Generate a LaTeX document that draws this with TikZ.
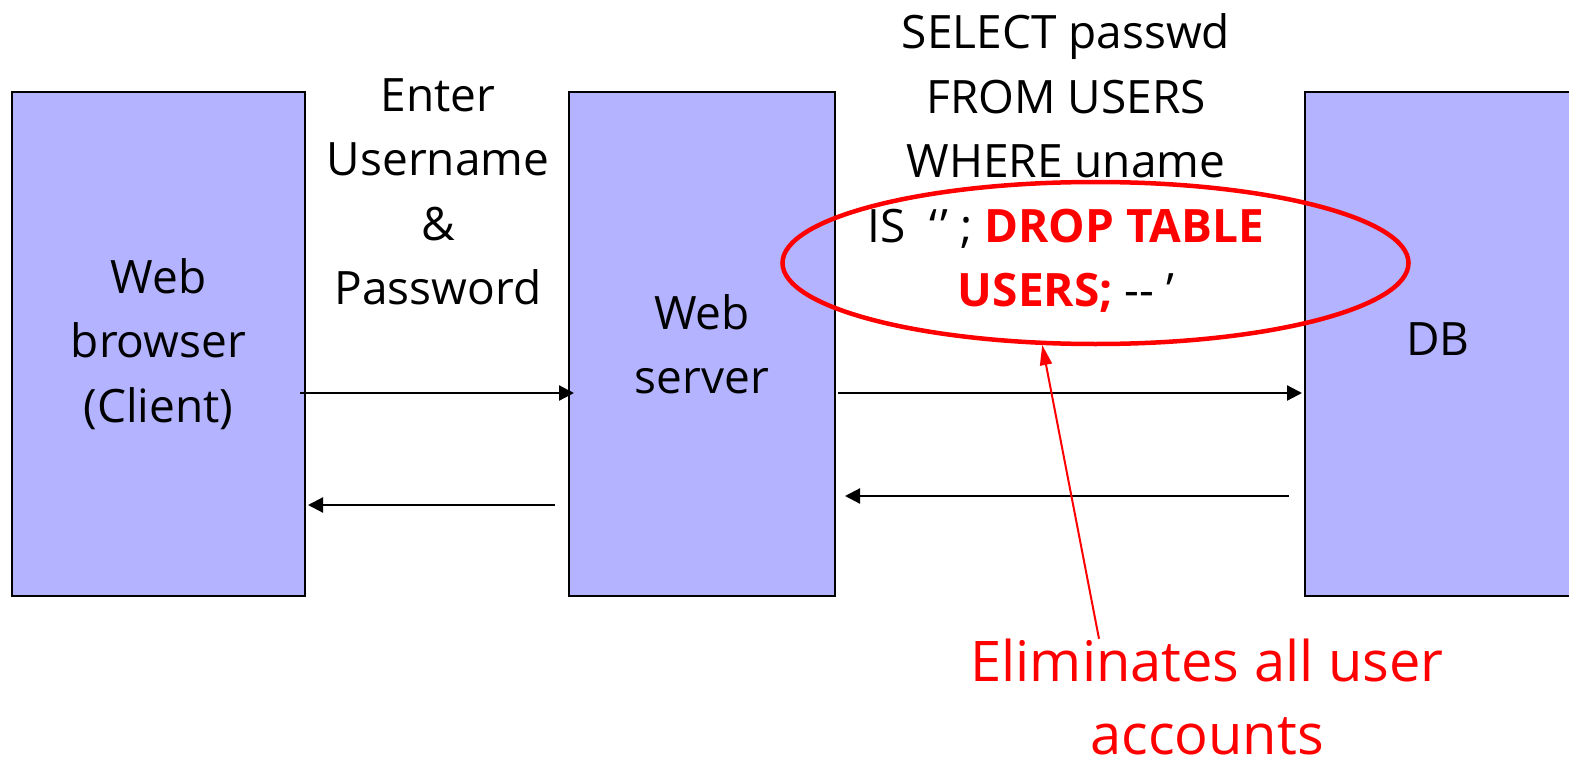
\documentclass[tikz,border=0pt]{standalone}
\usepackage{fontspec}
\setmainfont{Open Sans}
\usetikzlibrary{arrows.meta,shapes.geometric}

\definecolor{tierfill}{HTML}{B3B3FF}
\definecolor{alertred}{HTML}{FF0000}

% type sizes used in the figure
\newcommand\diagfont{\fontsize{46}{64.5}\selectfont}
\newcommand\notefont{\fontsize{56}{73}\selectfont}
% injected SQL fragment
\newcommand\inject[1]{\textcolor{alertred}{\bfseries #1}}

\begin{document}
\begin{tikzpicture}[x=1pt,y=-1pt,
  tier/.style={draw=black, line width=2pt, fill=tierfill,
    minimum width=#1, minimum height=504pt, inner sep=0pt,
    align=center, font=\diagfont},
  msg/.style={inner sep=0pt, align=center, font=\diagfont},
  note/.style={inner sep=0pt, align=center, font=\notefont, text=alertred},
  flow/.style={draw=black, line width=2.2pt,
    -{Triangle[length=15pt,width=15pt]}},
  callout/.style={draw=alertred, line width=2pt,
    -{Triangle[length=20pt,width=12pt]}},
  ring/.style={draw=alertred, line width=4.5pt, ellipse, inner sep=0pt}]

\useasboundingbox (0,0) rectangle (1569,765);

% the three tiers
\node[tier=293pt] (client) at (158.5,344) {Web\\browser\\(Client)};
\node[tier=266pt] (server) at (702,344) {Web\\server};
\node[tier=266pt, text depth=10pt] (db) at (1438,344) {DB};

% message texts
\node[msg] (login) at (438,192) {Enter\\Username\\\&\\Password};
\node[msg] (query) at (1066,163)
  {SELECT passwd\\FROM USERS\\WHERE uname\\IS~~‘\kern3pt’ ; \inject{DROP TABLE}\\\inject{USERS;} -{}- ’};

% highlight round the injected part
\node[ring, minimum width=626pt, minimum height=162pt] (hl) at (1095.5,263) {};

% remark below
\node[note] (note) at (1207,697) {Eliminates all user\\accounts};

% rows of the request / reply arrows
\coordinate (row1) at (0,393);
\coordinate (row2) at (0,505);
\coordinate (row3) at (0,496);

\draw[flow] ([xshift=-6pt]client.east |- row1) -- ([xshift=6pt]server.west |- row1);
\draw[flow] ([xshift=-13pt]server.west |- row2) -- ([xshift=2pt]client.east |- row2);
\draw[flow] ([xshift=2pt]server.east |- row1) -- ([xshift=-2pt]db.west |- row1);
\draw[flow] ([xshift=-15pt]db.west |- row3) -- ([xshift=9pt]server.east |- row3);

% pointer from the remark to the highlight
\draw[callout] (note.north -| 1099,0) -- (hl.237);

\end{tikzpicture}
\end{document}
